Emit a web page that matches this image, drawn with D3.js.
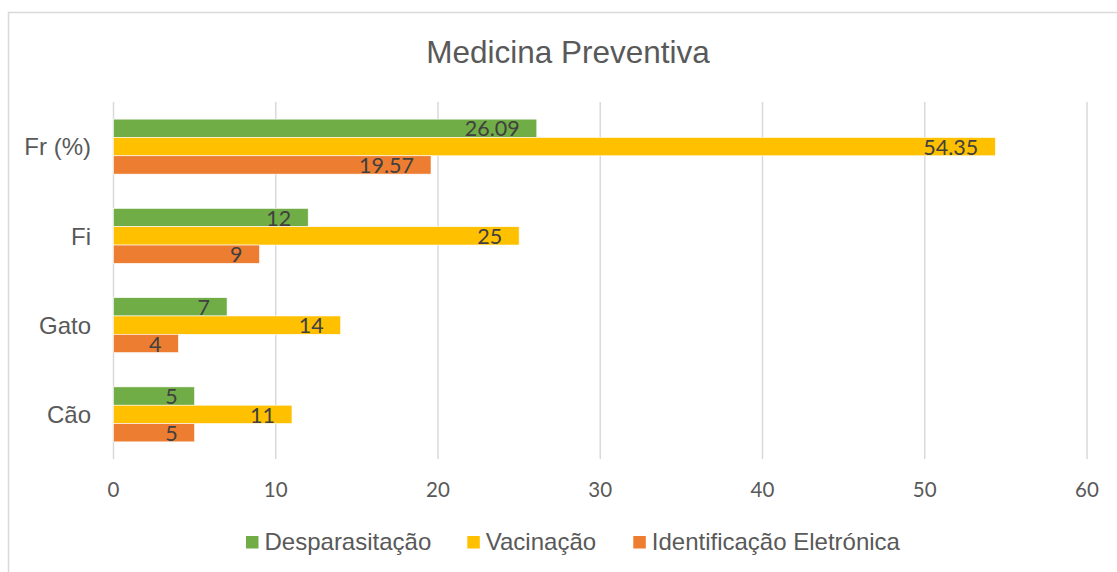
<!DOCTYPE html>
<html>
<head>
<meta charset="utf-8">
<script src="https://cdn.jsdelivr.net/npm/d3@7.9.0/dist/d3.min.js"></script>
<style>
  body { margin: 0; background: #fff; }
  svg { display: block; }
</style>
</head>
<body>
<svg width="1117" height="572"></svg>
<script>
// data, top to bottom as drawn
const categories = ['Fr (%)', 'Fi', 'Gato', 'Cão'];
const seriesNames = ['Desparasitação', 'Vacinação', 'Identificação Eletrónica'];
const desparasitacao = [26.09, 12, 7, 5];
const vacinacao = [54.35, 25, 14, 11];
const identificacao = [19.57, 9, 4, 5];
const xTicks = [0, 10, 20, 30, 40, 50, 60];
const colors = ['#70AD47', '#FFC000', '#ED7D31'];

const seriesValues = [desparasitacao, vacinacao, identificacao];

const svg = d3.select('svg');

// chart frame
svg.append('rect')
    .attr('x', 8.5).attr('y', 12.5)
    .attr('width', 1140).attr('height', 600)
    .attr('fill', 'none')
    .attr('stroke', '#D9D9D9')
    .attr('stroke-width', 1.5);

// title
svg.append('text')
    .attr('x', 568).attr('y', 62.5)
    .attr('text-anchor', 'middle')
    .attr('font-family', 'Liberation Sans, Arial, sans-serif')
    .attr('font-size', 31.5)
    .attr('fill', '#595959')
    .text('Medicina Preventiva');

const x = d3.scaleLinear().domain([0, 60]).range([113.5, 1087]);
const y = d3.scaleBand().domain(categories).range([102, 459])
    .paddingInner(0.384).paddingOuter(0.192);
const ySub = d3.scaleBand().domain(d3.range(seriesNames.length)).range([0, y.bandwidth()]);

// grid lines
svg.append('g').selectAll('line')
    .data(xTicks)
    .join('line')
    .attr('x1', d => x(d)).attr('x2', d => x(d))
    .attr('y1', 102).attr('y2', 459)
    .attr('stroke', '#D9D9D9')
    .attr('stroke-width', 1.5);

// x tick labels
svg.append('g').selectAll('text')
    .data(xTicks)
    .join('text')
    .attr('x', d => x(d))
    .attr('y', 497)
    .attr('text-anchor', 'middle')
    .attr('font-family', 'Lato, sans-serif')
    .attr('font-size', 20.5)
    .attr('fill', '#595959')
    .text(d => d);

// category labels
svg.append('g').selectAll('text')
    .data(categories)
    .join('text')
    .attr('x', 91)
    .attr('y', d => y(d) + y.bandwidth() / 2)
    .attr('dy', '0.36em')
    .attr('text-anchor', 'end')
    .attr('font-family', 'Liberation Sans, Arial, sans-serif')
    .attr('font-size', 24)
    .attr('fill', '#595959')
    .text(d => d);

// bars + labels
const rows = [];
seriesValues.forEach((vals, s) => {
    vals.forEach((v, i) => rows.push({ s, cat: categories[i], v }));
});

svg.append('g').selectAll('rect')
    .data(rows)
    .join('rect')
    .attr('x', x(0))
    .attr('y', d => y(d.cat) + ySub(d.s))
    .attr('width', d => x(d.v) - x(0))
    .attr('height', ySub.bandwidth())
    .attr('fill', d => colors[d.s])
    .attr('stroke', '#fff')
    .attr('stroke-width', 0.6);

svg.append('g').selectAll('text')
    .data(rows)
    .join('text')
    .attr('x', d => x(d.v) - 17)
    .attr('y', d => y(d.cat) + ySub(d.s) + ySub.bandwidth() / 2)
    .attr('dy', '0.38em')
    .attr('text-anchor', 'end')
    .attr('font-family', 'Lato, sans-serif')
    .attr('font-size', 21.5)
    .attr('fill', '#404040')
    .text(d => d.v);

// legend
const legendX = [246, 467.3, 633.3];
const legend = svg.append('g').selectAll('g')
    .data(seriesNames)
    .join('g')
    .attr('transform', (d, i) => `translate(${legendX[i]},536)`);
legend.append('rect')
    .attr('width', 12.5).attr('height', 12.5)
    .attr('fill', (d, i) => colors[i]);
legend.append('text')
    .attr('x', 18.5).attr('y', 14)
    .attr('font-family', 'Liberation Sans, Arial, sans-serif')
    .attr('font-size', 24)
    .attr('fill', '#595959')
    .text(d => d);
</script>
</body>
</html>
